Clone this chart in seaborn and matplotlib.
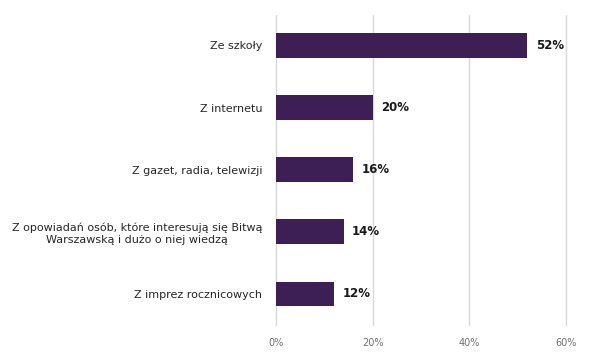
import matplotlib
matplotlib.use("Agg")
import matplotlib.pyplot as plt
import seaborn as sns
import pandas as pd
from matplotlib.ticker import FuncFormatter

# Dane z wykresu
kategorie = [
    "Ze szkoły",
    "Z internetu",
    "Z gazet, radia, telewizji",
    "Z opowiadań osób, które interesują się Bitwą\nWarszawską i dużo o niej wiedzą",
    "Z imprez rocznicowych",
]
wartosci = [52, 20, 16, 14, 12]
ticki = [0, 20, 40, 60]

KOLOR = "#3d1f55"

df = pd.DataFrame({"kategoria": kategorie, "procent": wartosci})

sns.set_theme(style="white")
plt.rcParams["font.family"] = ["DejaVu Sans"]

fig = plt.figure(figsize=(6.16, 3.56), dpi=100)
ax = fig.add_axes([0.448, 0.087, 0.471, 0.871])

sns.barplot(data=df, x="procent", y="kategoria", color=KOLOR, width=0.4,
            saturation=1, linewidth=0, ax=ax, zorder=3)

for i, v in enumerate(wartosci):
    ax.text(v + 1.7, i, f"{v}%", va="center", ha="left", fontsize=8.5,
            fontweight="bold", color="#1a1a1a")

ax.set_xlim(0, 60)
ax.set_ylim(4.5, -0.49)
ax.set_xticks(ticki)
ax.xaxis.set_major_formatter(FuncFormatter(lambda x, _: f"{x:.0f}%"))
ax.grid(axis="x", color="#d9d9d9", linewidth=1.0, zorder=0)
for gl in ax.get_xgridlines():
    gl.set_clip_on(False)
ax.set_xlabel("")
ax.set_ylabel("")
sns.despine(ax=ax, left=True, bottom=True, top=True, right=True)
ax.tick_params(axis="x", labelsize=7, colors="#6f6f6f", length=0, pad=9)
ax.tick_params(axis="y", labelsize=8, colors="#262626", length=0, pad=10)
for lbl in ax.get_yticklabels():
    lbl.set_multialignment("center")

fig.savefig("out.png", dpi=100)
